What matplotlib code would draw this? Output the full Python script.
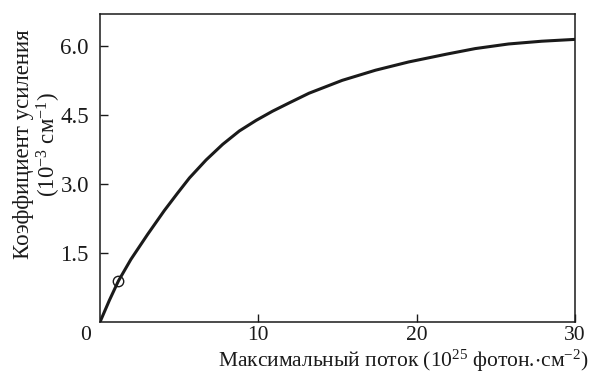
import matplotlib
matplotlib.use("Agg")
import matplotlib.pyplot as plt

# values
flux = [0, 0.59, 1.16, 1.95, 3.0, 4.06, 4.9, 5.65, 6.7, 7.75, 8.8, 9.86,
        10.9, 11.95, 13.2, 15.3, 17.4, 19.5, 21.9, 23.7, 25.8, 27.9, 30.0]
gain = [0, 0.47, 0.89, 1.36, 1.90, 2.42, 2.80, 3.13, 3.52, 3.86, 4.15, 4.38,
        4.58, 4.76, 4.97, 5.25, 5.47, 5.65, 5.82, 5.94, 6.04, 6.10, 6.14]
marker_x = [1.16]
marker_y = [0.89]

xticks = [10, 20, 30]
yticks = [1.5, 3.0, 4.5, 6.0]
ytick_labels = ["1.5", "3.0", "4.5", "6.0"]

plt.rcParams["font.family"] = ["Liberation Serif", "DejaVu Serif"]
plt.rcParams["mathtext.fontset"] = "custom"
plt.rcParams["mathtext.rm"] = "Liberation Serif"
plt.rcParams["mathtext.it"] = "Liberation Serif"
plt.rcParams["mathtext.default"] = "regular"

fs = 16.5
ink = "#1a1a1a"

fig = plt.figure(figsize=(5.9, 3.76), dpi=100)
ax = fig.add_axes([0.1695, 0.1436, 0.805, 0.819])

ax.plot(flux, gain, color=ink, lw=2.2, solid_capstyle="round",
        solid_joinstyle="round")
ax.plot(marker_x, marker_y, "o", ms=7.5, mfc="none", mec=ink, mew=1.0)

ax.set_xlim(0, 30)
ax.set_ylim(0, 6.69)
ax.set_xticks(xticks)
ax.set_xticklabels([str(t) for t in xticks])
ax.set_yticks(yticks)
ax.set_yticklabels(ytick_labels)
ax.tick_params(direction="in", length=6, width=1, labelsize=fs, color=ink,
               labelcolor=ink)
ax.tick_params(axis="x", pad=3, labelsize=15.5)
ax.tick_params(axis="y", pad=8)
for sp in ax.spines.values():
    sp.set_linewidth(1.1)
    sp.set_color(ink)

ax.text(-0.55, -0.08, "0", transform=ax.transData, ha="right", va="top",
        fontsize=15.5, color=ink)

fig.text(0.997, 0.006, "Максимальный поток (10$^{25}$ фотон.$\\cdot$см$^{-2}$)",
         ha="right", va="bottom", fontsize=15.5, color=ink)
fig.text(0.039, 0.617, "Коэффициент усиления", rotation=90, ha="center",
         va="center", fontsize=fs, color=ink)
fig.text(0.083, 0.617, "(10$^{-3}$ см$^{-1}$)", rotation=90, ha="center",
         va="center", fontsize=fs, color=ink)

fig.savefig("out.png", dpi=100)
